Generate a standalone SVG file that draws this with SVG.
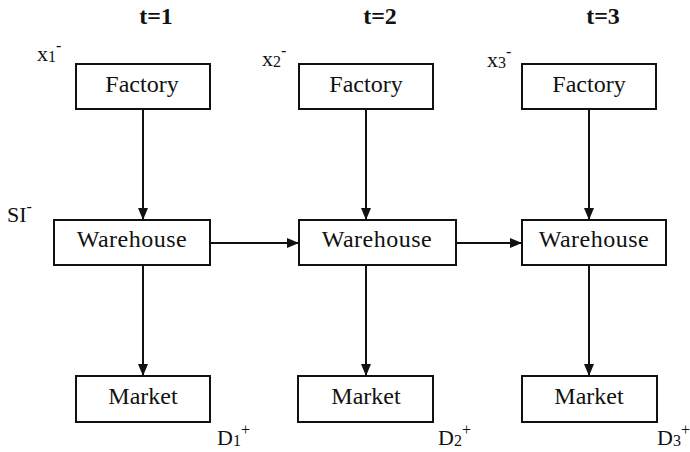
<svg xmlns="http://www.w3.org/2000/svg" width="690" height="452" viewBox="0 0 690 452">
<defs>
<marker id="ah" markerUnits="userSpaceOnUse" markerWidth="12" markerHeight="10" refX="12" refY="5" orient="auto">
<path d="M0,0 L12,5 L0,10 z" fill="#111"/>
</marker>
<style>
text{font-family:'Liberation Serif','DejaVu Serif',serif}
.box{fill:#fff;stroke:#111;stroke-width:2}
.lbl{font-size:24px;fill:#111;text-anchor:middle}
.ttl{font-size:24px;font-weight:bold;fill:#111;text-anchor:middle}
.var{font-size:22px;fill:#111}
.sub{font-size:16px}
.edge{stroke:#111;stroke-width:2;fill:none;marker-end:url(#ah)}
</style>
</defs>
<rect width="690" height="452" fill="#fff"/>

<g id="titles" font-family="Liberation Serif, DejaVu Serif, serif">
<text class="ttl" x="156" y="24">t=1</text>
<text class="ttl" x="380" y="24">t=2</text>
<text class="ttl" x="603" y="24">t=3</text>
</g>

<g id="connectors">
<line class="edge" x1="143" y1="109" x2="143" y2="220"/>
<line class="edge" x1="366" y1="109" x2="366" y2="220"/>
<line class="edge" x1="589" y1="109" x2="589" y2="220"/>
<line class="edge" x1="143" y1="265" x2="143" y2="376"/>
<line class="edge" x1="366" y1="265" x2="366" y2="376"/>
<line class="edge" x1="589" y1="265" x2="589" y2="376"/>
<line class="edge" x1="210" y1="243" x2="299" y2="243"/>
<line class="edge" x1="456" y1="243" x2="522" y2="243"/>
</g>

<g id="factory1"><rect class="box" x="76" y="64" width="134" height="45"/><text class="lbl" x="142" y="92" font-family="Liberation Serif, serif">Factory</text></g>
<g id="factory2"><rect class="box" x="299" y="64" width="134" height="45"/><text class="lbl" x="366" y="92" font-family="Liberation Serif, serif">Factory</text></g>
<g id="factory3"><rect class="box" x="522" y="64" width="134" height="45"/><text class="lbl" x="589" y="92" font-family="Liberation Serif, serif">Factory</text></g>

<g id="warehouse1"><rect class="box" x="54" y="220" width="156" height="45"/><text class="lbl" x="132" y="247" letter-spacing="0.5" font-family="Liberation Serif, serif">Warehouse</text></g>
<g id="warehouse2"><rect class="box" x="299" y="220" width="157" height="45"/><text class="lbl" x="377" y="247" letter-spacing="0.5" font-family="Liberation Serif, serif">Warehouse</text></g>
<g id="warehouse3"><rect class="box" x="522" y="220" width="144" height="45"/><text class="lbl" x="594" y="247" letter-spacing="0.5" font-family="Liberation Serif, serif">Warehouse</text></g>

<g id="market1"><rect class="box" x="76" y="376" width="134" height="46"/><text class="lbl" x="143" y="404" font-family="Liberation Serif, serif">Market</text></g>
<g id="market2"><rect class="box" x="298" y="376" width="135" height="46"/><text class="lbl" x="366" y="404" font-family="Liberation Serif, serif">Market</text></g>
<g id="market3"><rect class="box" x="522" y="376" width="135" height="46"/><text class="lbl" x="589" y="404" font-family="Liberation Serif, serif">Market</text></g>

<g id="labels" font-family="Liberation Serif, serif">
<text class="var" x="37" y="61">x<tspan class="sub" dy="1">1</tspan><tspan class="sub" dy="-11">-</tspan></text>
<text class="var" x="262" y="66">x<tspan class="sub" dy="1">2</tspan><tspan class="sub" dy="-11">-</tspan></text>
<text class="var" x="487" y="67">x<tspan class="sub" dy="1">3</tspan><tspan class="sub" dy="-11">-</tspan></text>
<text class="var" x="7" y="222" font-size="24">SI<tspan class="sub" dy="-10">-</tspan></text>
<text class="var" x="217" y="445">D<tspan class="sub" dy="1">1</tspan><tspan class="sub" dy="-11">+</tspan></text>
<text class="var" x="438" y="445">D<tspan class="sub" dy="1">2</tspan><tspan class="sub" dy="-11">+</tspan></text>
<text class="var" x="657" y="445">D<tspan class="sub" dy="1">3</tspan><tspan class="sub" dy="-11">+</tspan></text>
</g>
</svg>
